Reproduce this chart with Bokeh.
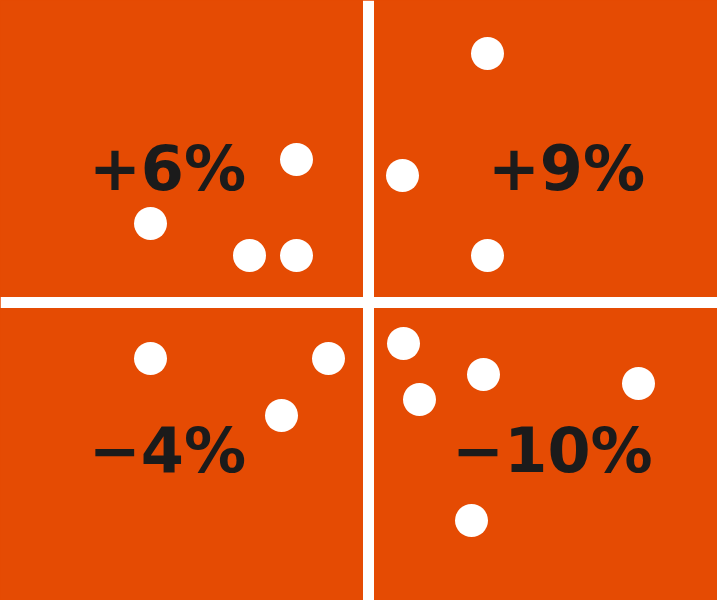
from bokeh.plotting import figure
from bokeh.models import Range1d, Span, ColumnDataSource
from bokeh.core.properties import value
from bokeh.embed import file_html
from bokeh.resources import INLINE

# Quadrant labels (percent change) and their positions
labels = ["+6%", "+9%", "\u22124%", "\u221210%"]
label_x = [-201, 198, -201, 184]
label_y = [134, 134, -148, -148]

# Dot positions (cross at origin)
dot_x = [-72, -218, -119, -72, 119, 34, 119, -218, -40, -87, 35, 115, 51, 270, 103]
dot_y = [143, 79, 47, 47, 249, 127, 47, -56, -56, -113, -41, -72, -97, -81, -218]

ORANGE = "#E54B03"

p = figure(width=717, height=600, output_backend="svg", toolbar_location=None,
           x_range=Range1d(-368, 349), y_range=Range1d(-298, 302),
           min_border=0)
p.axis.visible = False
p.grid.visible = False
p.outline_line_color = None
p.background_fill_color = ORANGE
p.border_fill_color = ORANGE

p.add_layout(Span(location=0, dimension="height", line_color="white", line_width=11))
p.add_layout(Span(location=0, dimension="width", line_color="white", line_width=11))

p.scatter(x=dot_x, y=dot_y, size=33, fill_color="white", line_color=None)

src = ColumnDataSource(dict(x=label_x, y=label_y, t=labels))
p.text(x="x", y="y", text="t", source=src, text_font=value("DejaVu Sans"),
       text_font_style="bold", text_font_size="62px", text_color="#1b1b1b",
       text_align="center", text_baseline="middle")

html = file_html(p, INLINE)
html = html.replace("</head>", "<style>html,body{background:%s;}</style></head>" % ORANGE, 1)
open("out.html", "w").write(html)
